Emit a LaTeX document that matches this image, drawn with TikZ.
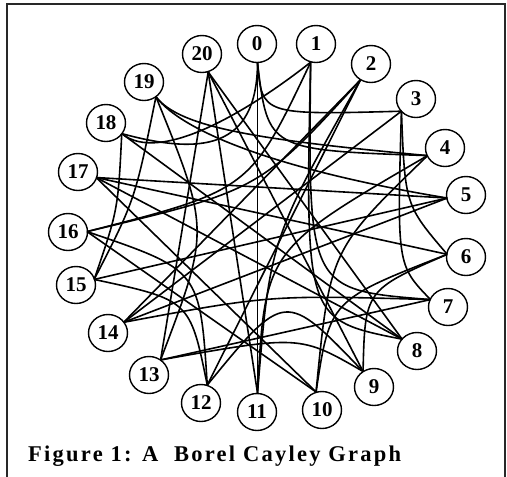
\documentclass[tikz,border=0pt]{standalone}
\usepackage{fontspec}
\setmainfont{Liberation Serif}
\usetikzlibrary{calc,shapes.geometric}

\tikzset{
  vtx/.style={ellipse,draw,line width=1.4pt,minimum width=39pt,minimum height=37pt,inner sep=0pt,font=\bfseries\fontsize{21}{21}\selectfont},
  lnk/.style={line width=1.6pt},
}

\begin{document}
\begin{tikzpicture}[x=1pt,y=-1pt]
\path[use as bounding box] (0,0) rectangle (507,477);
\draw[line width=1.8pt,draw={rgb,255:red,40;green,40;blue,40}] (7,477) -- (7,4) -- (505,4) -- (505,477);
\coordinate (ctr) at (262,228);
\node[vtx] (n0) at (257,44) {0};
\node[vtx] (n1) at (316,44) {1};
\node[vtx] (n2) at (371,64) {2};
\node[vtx] (n3) at (416,99) {3};
\node[vtx] (n4) at (445,148) {4};
\node[vtx] (n5) at (466,195) {5};
\node[vtx] (n6) at (466,257) {6};
\node[vtx] (n7) at (448,307) {7};
\node[vtx] (n8) at (417,351) {8};
\node[vtx] (n9) at (374,387) {9};
\node[vtx] (n10) at (322,410) {10};
\node[vtx] (n11) at (257,412) {11};
\node[vtx] (n12) at (201,403) {12};
\node[vtx] (n13) at (149,375) {13};
\node[vtx] (n14) at (108,333) {14};
\node[vtx] (n15) at (76,285) {15};
\node[vtx] (n16) at (68,232) {16};
\node[vtx] (n17) at (78,172) {17};
\node[vtx] (n18) at (106,123) {18};
\node[vtx] (n19) at (144,82) {19};
\node[vtx] (n20) at (202,54) {20};
\foreach \i in {0,...,20} \coordinate (p\i) at ($(n\i)!19pt!(ctr)$);
\draw[lnk] (p0) -- (p11);
\draw[lnk] (p3) -- (p14);
\draw[lnk] (p6) -- (p17);
\draw[lnk] (p9) -- (p20);
\draw[lnk] (p12) -- (p2);
\draw[lnk] (p15) -- (p5);
\draw[lnk] (p18) -- (p8);
\draw[lnk] (p5) -- (p14);
\draw[lnk] (p8) -- (p17);
\draw[lnk] (p11) -- (p20);
\draw[lnk] (p14) -- (p2);
\draw[lnk] (p17) -- (p5);
\draw[lnk] (p20) -- (p8);
\draw[lnk] (p13) -- (p20);
\draw[lnk] (p10) -- (p17);
\draw[lnk] (p7) -- (p13);
\draw[lnk] (p10) -- (p16);
\draw[lnk] (p11) .. controls (270,240) .. (p2);
\draw[lnk] (p0) .. controls (262,115) .. (p3);
\draw[lnk] (p0) .. controls (257,150) and (200,155) .. (p18);
\draw[lnk] (p0) .. controls (268,150) .. (p4);
\draw[lnk] (p1) .. controls (250,110) and (160,165) .. (p18);
\draw[lnk] (p3) .. controls (405,205) .. (p6);
\draw[lnk] (p3) .. controls (397,265) .. (p7);
\draw[lnk] (p6) .. controls (365,290) .. (p9);
\draw[lnk] (p9) .. controls (285,290) .. (p12);
\draw[lnk] (p12) .. controls (190,300) .. (p15);
\draw[lnk] (p12) .. controls (200,270) .. (p16);
\draw[lnk] (p15) .. controls (118,210) .. (p18);
\draw[lnk] (p15) .. controls (135,200) .. (p19);
\draw[lnk] (p13) .. controls (300,335) .. (p9);
\draw[lnk] (p6) .. controls (330,300) .. (p10);
\draw[lnk] (p13) .. controls (210,230) .. (p19);
\draw[lnk] (p19) .. controls (180,128) and (260,140) .. (p4);
\draw[lnk] (p4) .. controls (330,250) .. (p10);
\draw[lnk] (p1) .. controls (308,290) .. (p7);
\draw[lnk] (p1) .. controls (305,320) .. (p8);
\draw[lnk] (p19) .. controls (185,135) and (290,172) .. (p5);
\draw[lnk] (p11) .. controls (265,250) .. (p4);
\draw[lnk] (p7) .. controls (270,295) .. (p14);
\draw[lnk] (p16) .. controls (250,190) .. (p1);
\draw[lnk] (p16) .. controls (260,190) .. (p2);
\node[inner sep=0pt,anchor=base west,font=\bfseries\fontsize{22.5}{22.5}\selectfont\addfontfeatures{LetterSpace=10}] (cap) at (28,461) {Figure 1: A\ \ Borel Cayley Graph};
\end{tikzpicture}
\end{document}
